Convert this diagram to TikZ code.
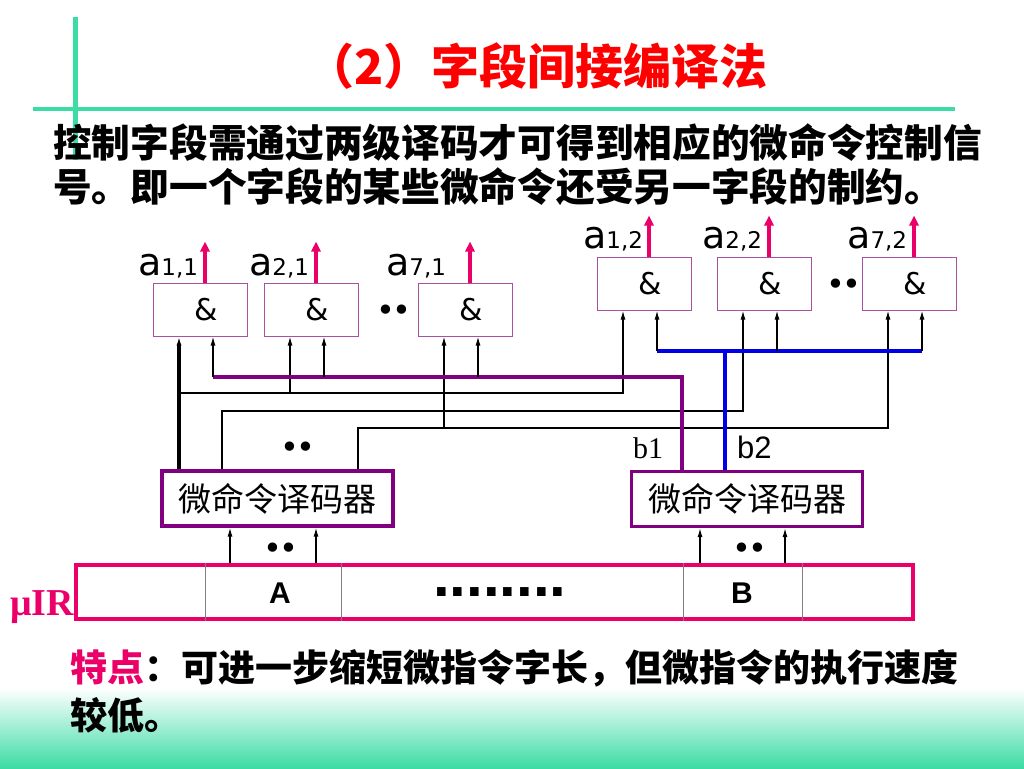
\documentclass[tikz,border=0pt]{standalone}
\usepackage{fontspec}
\usetikzlibrary{arrows.meta}
\newfontfamily\cjk{Noto Sans CJK SC}
\newfontfamily\vsans{DejaVu Sans}
\newfontfamily\asans{Liberation Sans}
\newfontfamily\tnr{Liberation Serif}
\definecolor{slidegreen}{RGB}{60,220,165}
\definecolor{outred}{RGB}{235,0,105}
\definecolor{buspurple}{RGB}{128,0,128}
\definecolor{gatepurple}{RGB}{170,80,160}
\definecolor{busblue}{RGB}{0,0,230}
\newcommand{\aout}[1]{{\vsans\fontsize{38}{38}\selectfont a\fontsize{23}{23}\selectfont #1}}

\begin{document}
\begin{tikzpicture}[
		x=1pt, y=-1pt,
		gate/.style={draw=gatepurple, line width=1pt, minimum width=94pt, minimum height=53pt, inner sep=0pt, font=\vsans\fontsize{30}{30}\selectfont},
		decoder/.style={draw=buspurple, line width=3.2pt, minimum width=231pt, minimum height=55pt, inner sep=0pt, font=\cjk\fontsize{33}{33}\selectfont},
		wire/.style={line width=1.3pt},
		feed/.style={wire, -{Latex[length=9pt,width=5pt]}},
		output/.style={draw=outred, line width=3.2pt, -{Triangle[length=10pt,width=9pt]}},
		dotpair/.style={anchor=base, inner sep=0pt, text height=14pt, text depth=0pt, font=\vsans\fontsize{32}{32}\selectfont},
		lab/.style={anchor=base west, inner sep=0pt, text depth=0pt},
		txt/.style={anchor=west, inner sep=0pt}
	]
  \useasboundingbox (0,0) rectangle (1024,768);
  \shade[top color=white, bottom color=slidegreen] (0,688) rectangle (1024,768);
  \draw[slidegreen, line width=5pt] (75,17) -- (75,160);
  \draw[slidegreen, line width=4.5pt] (33,109) -- (955,109);

  \node (title) [txt, text=red, font=\cjk\bfseries\fontsize{48}{48}\selectfont] at (306,66) {（2）字段间接编译法};
  \node (line1) [txt, font=\cjk\bfseries\fontsize{38.7}{38.7}\selectfont] at (53,143) {控制字段需通过两级译码才可得到相应的微命令控制信};
  \node (line2) [txt, font=\cjk\bfseries\fontsize{38.7}{38.7}\selectfont] at (53,187) {号。即一个字段的某些微命令还受另一字段的制约。};

  \node (L1) [gate] at (200,309.5) {\hspace*{12pt}\&};
  \node (L2) [gate] at (311,309.5) {\hspace*{12pt}\&};
  \node (L3) [gate] at (465,309.5) {\hspace*{12pt}\&};
  \node (R1) [gate] at (644,283.5) {\hspace*{12pt}\&};
  \node (R2) [gate] at (764,283.5) {\hspace*{12pt}\&};
  \node (R3) [gate] at (909,283.5) {\hspace*{12pt}\&};
  \foreach \g in {L1,L2,L3,R1,R2,R3} {
    \coordinate (\g-a) at ([xshift=-21pt]\g.south);
    \coordinate (\g-b) at ([xshift=13pt]\g.south);
    \coordinate (\g-o) at ([xshift=5pt]\g.north);
    \draw[output] (\g-o) -- ++(0,-41);
  }
  \node (aL1) [lab] at (138,275) {\aout{1,1}};
  \node (aL2) [lab] at (249,275) {\aout{2,1}};
  \node (aL3) [lab] at (386,275) {\aout{7,1}};
  \node (aR1) [lab] at (583,248) {\aout{1,2}};
  \node (aR2) [lab] at (702,248) {\aout{2,2}};
  \node (aR3) [lab] at (847,248) {\aout{7,2}};
  \node (dL) [dotpair] at (394,321) {•\kern-3pt•};
  \node (dR) [dotpair] at (844,295) {•\kern-3pt•};

  \node (D1) [decoder] at (277.5,498.5) {微命令译码器};
  \node (D2) [decoder] at (747,499) {微命令译码器};
  \node (dD1) [dotpair] at (298,458) {•\kern-3pt•};

  \coordinate (w1) at (0,393);
  \coordinate (w2) at (222,411);
  \coordinate (w3) at (358,428);
  \coordinate (busP) at (682,377);
  \coordinate (busB) at (725,351);
  \draw[feed] (L1-a |- w1) -- (R1-a |- w1) -- (R1-a);
  \draw[feed] (L2-a |- w1) -- (L2-a);
  \draw[feed] (w2 |- D1.north) -- (w2) -- (R2-a |- w2) -- (R2-a);
  \draw[feed] (w3 |- D1.north) -- (w3) -- (R3-a |- w3) -- (R3-a);
  \draw[feed] (L3-a |- w3) -- (L3-a);
  \draw[buspurple, line width=3.5pt] (L1-b |- busP) -- (busP) -- (busP |- D2.north);
  \foreach \g in {L1,L2,L3} \draw[feed] (\g-b |- busP) -- (\g-b);
  \draw[feed, line width=3.5pt] (L1-a |- D1.north) -- (L1-a);
  \draw[busblue, line width=3.5pt] (R1-b |- busB) -- (R3-b |- busB);
  \draw[busblue, line width=3.5pt] (busB) -- (busB |- D2.north);
  \foreach \g in {R1,R2,R3} \draw[feed] (\g-b |- busB) -- (\g-b);
  \node (b1) [lab, font=\tnr\fontsize{30}{30}\selectfont] at (633,458) {b1};
  \node (b2) [lab, font=\asans\fontsize{31}{31}\selectfont] at (737,458) {b2};

  \node (IR) [draw=outred, line width=3.2pt, minimum width=837pt, minimum height=54pt, inner sep=0pt] at (494.5,592) {};
  \foreach \x in {205,341,683,802}
    \draw[gray, line width=1pt] (\x,0 |- IR.north) -- (\x,0 |- IR.south);
  \node (fA) [font=\asans\bfseries\fontsize{30}{30}\selectfont] at (280,593) {A};
  \node (fB) [font=\asans\bfseries\fontsize{30}{30}\selectfont] at (742,593) {B};
  \node (fdots) [lab, font=\asans\bfseries\fontsize{60}{60}\selectfont] at (433,596) {........};
  \node (muIR) [lab, text=outred, font=\tnr\bfseries\fontsize{38}{38}\selectfont] at (10,615) {μIR};
  \draw[feed] (230,0 |- IR.north) -- (230,0 |- D1.south);
  \draw[feed] (316,0 |- IR.north) -- (316,0 |- D1.south);
  \draw[feed] (700,0 |- IR.north) -- (700,0 |- D2.south);
  \draw[feed] (785,0 |- IR.north) -- (785,0 |- D2.south);
  \node (dA) [dotpair] at (281,559) {•\kern-3pt•};
  \node (dB) [dotpair] at (750,559) {•\kern-3pt•};

  \node (note1) [txt, font=\cjk\bfseries\fontsize{37}{37}\selectfont] at (70,668) {\textcolor{outred}{特点}：可进一步缩短微指令字长，但微指令的执行速度};
  \node (note2) [txt, font=\cjk\bfseries\fontsize{37}{37}\selectfont] at (70,715) {较低。};
\end{tikzpicture}
\end{document}
